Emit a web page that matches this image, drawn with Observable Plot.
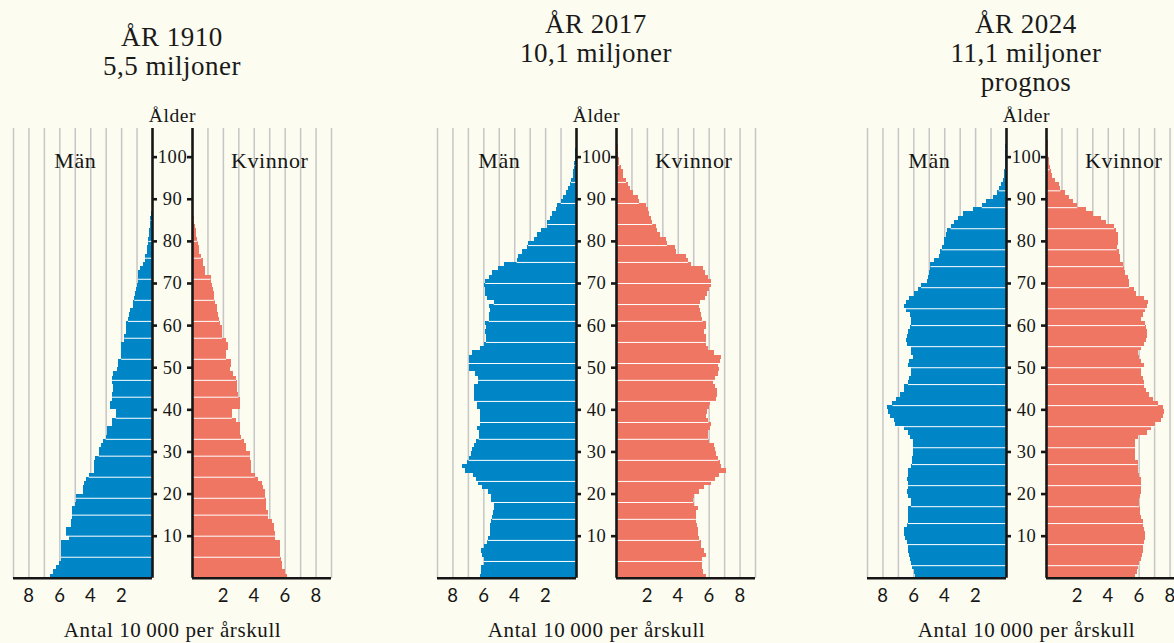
<!DOCTYPE html>
<html><head><meta charset="utf-8">
<script src="https://cdn.jsdelivr.net/npm/d3@7"></script>
<script src="https://cdn.jsdelivr.net/npm/@observablehq/plot@0.6"></script>
<style>
html,body{margin:0;padding:0;background:#fcfcf0;overflow:hidden;width:1174px;height:643px}
#root{position:relative;width:1174px;height:643px;overflow:hidden}
.pyr{position:absolute;top:0;width:318px;height:643px}
.title{position:absolute;width:318px;font-family:"Liberation Serif",serif;font-size:27px;letter-spacing:0.5px;line-height:29px;text-align:center;color:#1a1a1a}
</style></head>
<body><div id="root"></div>
<script>
// ---- data (units: 10 000 persons per one-year age group, age 0 upward) ----
const years = ["1910", "2017", "2024"];
const titleLines = [
  ["ÅR 1910", "5,5 miljoner"],
  ["ÅR 2017", "10,1 miljoner"],
  ["ÅR 2024", "11,1 miljoner", "prognos"]
];
const sexLabels = ["Män", "Kvinnor"];
const ageLabel = "Ålder";
const xLabel = "Antal 10\u2009000 per årskull";
const ageTicks = [10, 20, 30, 40, 50, 60, 70, 80, 90, 100];
const valueTicks = [2, 4, 6, 8];
const gridValues = [1, 2, 3, 4, 5, 6, 7, 8, 9];

const men1910 = [6.6,6.4,6.2,6.0,5.9,5.9,5.9,5.9,5.9,5.4, 5.55,5.55,5.25,5.25,5.2,5.2,5.2,5.0,4.95,4.95,
  4.5,4.45,4.4,4.25,4.1,3.75,3.75,3.75,3.7,3.45, 3.4,3.3,3.2,3.0,2.9,2.9,2.6,2.6,2.35,2.35,
  2.75,2.75,2.6,2.6,2.5,2.5,2.6,2.6,2.5,2.25, 2.2,2.2,2.0,2.0,1.98,1.98,1.8,1.8,1.7,1.7,
  1.7,1.55,1.5,1.45,1.2,1.2,1.15,1.1,1.05,0.97, 0.9,0.9,0.88,0.76,0.6,0.48,0.45,0.33,0.32,0.25,
  0.24,0.2,0.19,0.15,0.14,0.1,0.06];
const women1910 = [6.15,6.0,5.85,5.8,5.75,5.7,5.7,5.7,5.7,5.4, 5.4,5.3,5.3,5.2,4.95,4.95,4.8,4.8,4.8,4.7,
  4.7,4.6,4.55,4.3,4.05,3.8,3.8,3.8,3.75,3.75, 3.5,3.5,3.35,3.2,3.1,3.1,3.1,2.85,2.6,2.6,
  3.1,3.1,3.1,3.0,2.9,2.9,2.9,2.85,2.65,2.45, 2.55,2.55,2.2,2.2,2.35,2.35,2.2,1.95,1.95,1.95,
  1.8,1.75,1.7,1.65,1.6,1.5,1.45,1.4,1.35,1.3, 1.2,1.2,0.82,0.82,0.7,0.7,0.6,0.45,0.45,0.42,
  0.35,0.28,0.27,0.2,0.15,0.14,0.08,0.05];
const men2017 = [6.24,6.13,6.13,5.98,5.98,6.1,6.13,5.93,5.76,5.72, 5.6,5.6,5.6,5.5,5.43,5.37,5.33,5.28,5.5,5.5,
  5.7,6.1,6.35,6.5,6.65,7.17,7.35,7.07,6.96,6.78, 6.74,6.59,6.46,6.3,6.3,6.41,6.24,6.24,6.2,6.24,
  6.41,6.41,6.63,6.63,6.59,6.63,6.37,6.37,6.52,6.96, 6.96,6.96,6.96,6.74,6.24,5.98,5.83,5.83,5.87,5.83,
  5.91,5.65,5.65,5.6,5.65,5.33,5.76,5.9,5.9,5.93, 5.87,5.65,5.43,5.07,4.63,3.85,3.74,3.52,3.15,3.1,
  2.72,2.54,2.28,1.89,1.85,1.67,1.57,1.3,1.24,0.98, 0.87,0.65,0.54,0.39,0.33,0.22,0.17,0.13,0.1,0.08,
  0.06,0.04,0.03];
const women2017 = [5.83,5.65,5.6,5.6,5.6,5.83,5.7,5.5,5.5,5.4, 5.33,5.33,5.22,5.17,5.17,5.15,5.33,5.04,5.0,5.04,
  5.4,5.7,6.13,6.41,6.7,7.1,6.8,6.74,6.63,6.48, 6.41,6.35,6.04,5.98,5.98,6.09,6.13,5.98,5.83,5.87,
  6.0,6.09,6.48,6.52,6.52,6.41,6.3,6.41,6.59,6.67, 6.63,6.74,6.78,6.37,5.98,5.83,5.83,5.83,5.7,5.83,
  5.83,5.6,5.48,5.43,5.4,5.43,5.76,5.87,6.04,6.15, 6.15,5.98,5.76,5.65,4.83,4.67,4.5,3.91,3.8,3.3,
  3.26,2.87,2.65,2.6,2.35,2.28,2.13,2.07,1.96,1.48, 1.41,1.09,0.91,0.76,0.65,0.48,0.43,0.33,0.22,0.17,
  0.13,0.12,0.1,0.08,0.06,0.05];
const men2024 = [5.87,5.98,6.09,6.13,6.2,6.3,6.35,6.37,6.41,6.52, 6.59,6.59,6.41,6.37,6.37,6.35,6.35,6.15,6.13,6.37,
  6.41,6.35,6.35,6.41,6.35,6.35,6.13,6.09,6.09,6.02, 6.02,6.02,6.02,6.2,6.35,6.63,7.17,7.28,7.5,7.65,
  7.72,7.35,7.13,6.85,6.63,6.63,6.35,6.3,6.13,6.13, 6.35,6.3,6.02,6.13,6.13,6.41,6.48,6.41,6.35,6.2,
  6.13,6.13,6.2,6.48,6.63,6.48,6.3,5.98,5.72,5.5, 5.1,5.04,4.96,4.89,4.89,4.67,4.35,4.3,4.17,4.02,
  4.02,3.91,3.8,3.59,3.37,3.09,2.76,2.11,1.57,1.3, 0.87,0.61,0.48,0.33,0.22,0.13,0.1,0.07,0.06,0.06,
  0.06,0.08,0.08];
const women2024 = [5.76,5.89,5.98,6.04,6.15,6.22,6.3,6.3,6.37,6.41, 6.41,6.37,6.3,6.26,6.15,6.09,6.09,6.04,6.04,6.1,
  6.15,6.15,6.15,6.15,6.04,5.98,5.93,5.93,5.76,5.76, 5.76,5.76,5.76,5.93,6.54,6.8,7.07,7.46,7.57,7.67,
  7.57,7.24,6.91,6.7,6.48,6.37,6.33,6.26,6.15,6.15, 6.33,6.15,6.04,5.93,6.15,6.33,6.48,6.54,6.54,6.48,
  6.41,6.15,6.26,6.41,6.54,6.59,6.37,5.85,5.72,5.39, 5.35,5.28,5.11,5.07,5.0,4.78,4.78,4.74,4.57,4.63,
  4.63,4.63,4.52,4.41,3.87,3.54,3.04,2.57,2.02,1.76, 1.48,1.26,0.93,0.83,0.61,0.39,0.33,0.24,0.17,0.17,
  0.13,0.13,0.1,0.1,0.08,0.06];

const menSeries = [men1910, men2017, men2024];
const womenSeries = [women1910, women2017, women2024];

// ---- styling / layout ----
const BLUE = "#0086c6", RED = "#ef7663", GRID = "#c6c6c6", INK = "#161616";
const SERIF = "'Liberation Serif', 'DejaVu Serif', serif";
const SANS = "Lato, 'Open Sans', sans-serif";
const panelLeft = [13, 437, 867];
const titleTop = [23, 9.5, 9.5];
const stripePhase = [5.2, 4.4, 3.3];
const PX_PER_UNIT = 139 / 9;
const G = 20 / PX_PER_UNIT;       // half gap between the two axes, in value units
const YMAX = 106.8;

const root = document.getElementById("root");

years.forEach((yr, i) => {
  const men = menSeries[i], women = womenSeries[i];
  const mRows = men.map((v, a) => ({age: a, v}));
  const fRows = women.map((v, a) => ({age: a, v}));
  const stripes = d3.range(0, 24).map(k => Math.round(stripePhase[i] + k * 4.69));
  const mStripes = stripes.filter(a => a > 0 && a < men.length).map(a => ({age: a, v: men[a]}));
  const fStripes = stripes.filter(a => a > 0 && a < women.length).map(a => ({age: a, v: women[a]}));

  const chart = Plot.plot({
    width: 318, height: 643,
    marginTop: 128, marginBottom: 643 - 577.8, marginLeft: 0, marginRight: 0,
    style: {background: "transparent", overflow: "visible", maxWidth: "none", color: INK, letterSpacing: "0.6px"},
    x: {domain: [-9 - G, 9 + G], axis: null},
    y: {domain: [0, YMAX], axis: null},
    marks: [
      // grid lines
      Plot.ruleX(gridValues, {x: d => -G - d, y1: 0, y2: YMAX, stroke: GRID, strokeWidth: 1.5}),
      Plot.ruleX(gridValues, {x: d => G + d, y1: 0, y2: YMAX, stroke: GRID, strokeWidth: 1.5}),
      // bars
      Plot.rect(mRows, {x1: -G, x2: d => -G - d.v, y1: d => d.age, y2: d => d.age + 1, fill: BLUE, shapeRendering: "crispEdges"}),
      Plot.rect(fRows, {x1: G, x2: d => G + d.v, y1: d => d.age, y2: d => d.age + 1, fill: RED, shapeRendering: "crispEdges"}),
      // white separators between some one-year bars
      Plot.ruleY(mStripes, {y: "age", x1: -G, x2: d => -G - d.v, stroke: "white", strokeWidth: 1}),
      Plot.ruleY(fStripes, {y: "age", x1: G, x2: d => G + d.v, stroke: "white", strokeWidth: 1}),
      // axes
      Plot.ruleX([-G, G], {x: d => d, y1: 0, y2: YMAX, stroke: INK, strokeWidth: 2.6}),
      Plot.ruleY([0], {y: 0, x1: -9 - G, x2: -G, stroke: INK, strokeWidth: 2.4}),
      Plot.ruleY([0], {y: 0, x1: G, x2: 9 + G, stroke: INK, strokeWidth: 2.4}),
      Plot.ruleY(ageTicks, {y: d => d, x1: -G, x2: -G + 5 / PX_PER_UNIT, stroke: INK, strokeWidth: 2.6}),
      Plot.ruleY(ageTicks, {y: d => d, x1: G - 5 / PX_PER_UNIT, x2: G, stroke: INK, strokeWidth: 2.6}),
      Plot.text(ageTicks, {x: 0, y: d => d, text: d => String(d), fontFamily: SERIF, fontSize: 18.5, fill: INK}),
      // value tick labels
      Plot.text(valueTicks, {x: d => -G - d, y: -4.2, text: d => String(d), fontFamily: SANS, fontSize: 18.5, fill: INK}),
      Plot.text(valueTicks, {x: d => G + d, y: -4.2, text: d => String(d), fontFamily: SANS, fontSize: 18.5, fill: INK}),
      // labels
      Plot.text([xLabel], {x: 0, y: -12.4, text: d => d, fontFamily: SERIF, fontSize: 21, fill: INK}),
      Plot.text([ageLabel], {x: 0, y: 109.8, text: d => d, fontFamily: SERIF, fontSize: 19.5, fill: INK}),
      Plot.text([sexLabels[0]], {x: -G - 5, y: 99, text: d => d, fontFamily: SERIF, fontSize: 22, fill: INK}),
      Plot.text([sexLabels[1]], {x: G + 5, y: 99, text: d => d, fontFamily: SERIF, fontSize: 22, fill: INK})
    ]
  });

  const holder = document.createElement("div");
  holder.className = "pyr";
  holder.style.left = panelLeft[i] + "px";
  holder.appendChild(chart);
  root.appendChild(holder);

  const t = document.createElement("div");
  t.className = "title";
  t.style.left = panelLeft[i] + "px";
  t.style.top = titleTop[i] + "px";
  t.innerHTML = titleLines[i].map(s => `<div>${s}</div>`).join("");
  root.appendChild(t);
});
</script></body></html>
